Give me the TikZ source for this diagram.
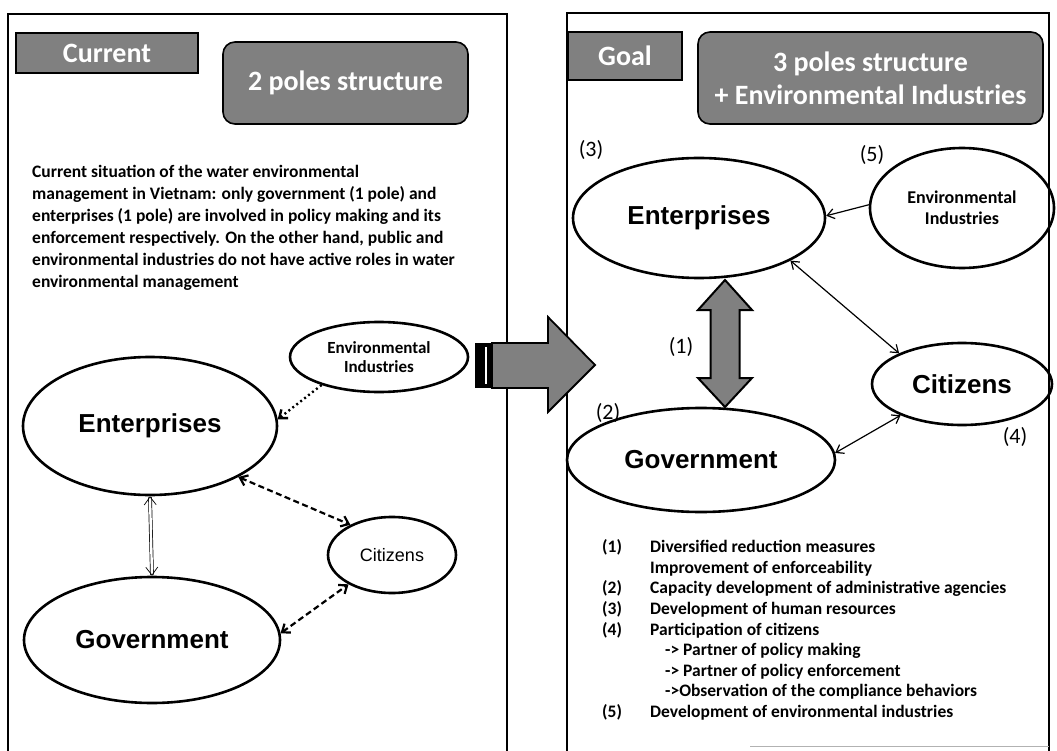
\documentclass[tikz,border=0pt]{standalone}
\usepackage{fontspec}
\setmainfont{Carlito}
\newfontfamily\arialfont{Liberation Sans}
\usepackage{xcolor}
\definecolor{tx}{gray}{0.5}
\usetikzlibrary{shapes.geometric, arrows.meta}

\begin{document}
\begin{tikzpicture}[x=1pt, y=-1pt,
  panel/.style={line width=2pt},
  tag/.style={draw, line width=1.6pt, fill=tx, text=white, inner sep=0pt, align=center, font=\bfseries\fontsize{28}{33}\selectfont},
  pole/.style={draw, ellipse, line width=2.6pt, inner sep=0pt},
  big/.style={font=\arialfont\bfseries\fontsize{26}{30}\selectfont},
  small/.style={font=\bfseries\fontsize{17}{19}\selectfont, align=center},
  barb/.tip={Straight Barb[length=7pt, width=11pt]},
  dash link/.style={line width=2.2pt, dash pattern=on 6pt off 3.5pt, barb-barb},
  dot link/.style={line width=2.4pt, dash pattern=on 2pt off 3pt, -barb},
  twin link/.style={line width=0.7pt, double=white, double distance=2.4pt, {Straight Barb[length=8pt, width=12pt]}-{Straight Barb[length=8pt, width=12pt]}},
  thin link/.style={line width=1.2pt, {Straight Barb[length=7pt, width=10pt]}-{Straight Barb[length=7pt, width=10pt]}},
  num/.style={font=\fontsize{22}{24}\selectfont, inner sep=0pt}]
\useasboundingbox (0,0) rectangle (1057,751);
\draw[panel] (8,760) -- (8,14) -- (507,14) -- (507,760);
\draw[panel] (567,760) -- (567,13) -- (1049,13) -- (1049,760);
\draw[gray!60, line width=1pt] (750,746) -- (1049,746);

\node[tag, minimum width=182pt, minimum height=40pt] (cur) at (107,53) {Current};
\node[tag, rounded corners=12pt, minimum width=245pt, minimum height=82pt] (two) at (345.5,83) {2 poles structure};
\node[tag, minimum width=114pt, minimum height=48pt] (goal) at (625,56) {Goal};
\node[tag, rounded corners=12pt, minimum width=345pt, minimum height=92pt] (three) at (870.5,78) {3 poles structure\\+ Environmental Industries};

\node[anchor=north west, align=left, inner sep=0pt, font=\bfseries\fontsize{17.5}{22}\selectfont] (txt) at (32,165)
{Current situation of the water environmental\\
management  in Vietnam: only government  (1 pole) and\\
enterprises (1 pole) are involved in policy making and its\\
enforcement respectively.  On the other hand, public  and\\
environmental industries do not have active roles in water\\
environmental management};

\node[pole, big, minimum width=254pt, minimum height=138pt] (entL) at (150,426) {Enterprises};
\node[pole, small, minimum width=178pt, minimum height=70pt] (envL) at (379,357) {Environmental\\Industries};
\node[pole, minimum width=128pt, minimum height=76pt, font=\arialfont\fontsize{18}{20}\selectfont] (citL) at (392,555) {Citizens};
\node[pole, big, minimum width=256pt, minimum height=126pt] (govL) at (152,640) {Government};

\draw[dot link] (envL.206) -- (entL.3);
\draw[dash link] (entL.-30) -- (citL.144);
\draw[dash link] (govL.3) -- (citL.214);
\draw[twin link] (entL.south) -- (govL.north);

\fill[black] (475,343) rectangle (492,388);
\draw[white, line width=1.5pt] (486,347) -- (486,384);
\draw[line width=1.8pt, fill=tx, line join=miter] (492,343) -- (548,343) -- (548,317) -- (595,365) -- (548,412) -- (548,388) -- (492,388) -- cycle;

\node[pole, big, minimum width=252pt, minimum height=120pt] (entR) at (699,218) {Enterprises};
\node[pole, small, minimum width=184pt, minimum height=120pt, font=\bfseries\fontsize{18}{21}\selectfont] (envR) at (962,208) {Environmental\\Industries};
\node[pole, big, minimum width=180pt, minimum height=82pt] (citR) at (962,384) {Citizens};
\node[pole, big, minimum width=268pt, minimum height=104pt] (govR) at (701,460) {Government};

\draw[line width=2pt, fill=tx, line join=miter] (725,280) -- (752,310) -- (739.5,310) -- (739.5,378) -- (752,378) -- (725,407) -- (698,378) -- (710.5,378) -- (710.5,310) -- (698,310) -- cycle;

\draw[line width=1.2pt, -{Straight Barb[length=7pt, width=10pt]}] (envR.178) -- (entR.1);
\draw[thin link] (entR.-25) -- (citR.154);
\draw[thin link] (govR.3) -- (citR.207);

\foreach \x/\y/\n in {591/150/3, 872/155/5, 681/347/1, 608/413/2, 1015/437/4}{
\node[num] (n\n) at (\x,\y) {(\n)};
}

\node[anchor=north west, inner sep=0pt, font=\bfseries\fontsize{17.5}{20.6}\selectfont] (list) at (602,538)
{\begin{tabular}{@{}p{48pt}@{}l@{}}
(1) & Diversified reduction measures\\
    & Improvement of enforceability\\
(2) & Capacity development of administrative agencies\\
(3) & Development of human resources\\
(4) & Participation of citizens\\
    & \hspace{15pt}-> Partner of policy making\\
    & \hspace{15pt}-> Partner of policy enforcement\\
    & \hspace{15pt}->Observation of the compliance behaviors\\
(5) & Development of environmental industries
\end{tabular}};
\end{tikzpicture}
\end{document}
